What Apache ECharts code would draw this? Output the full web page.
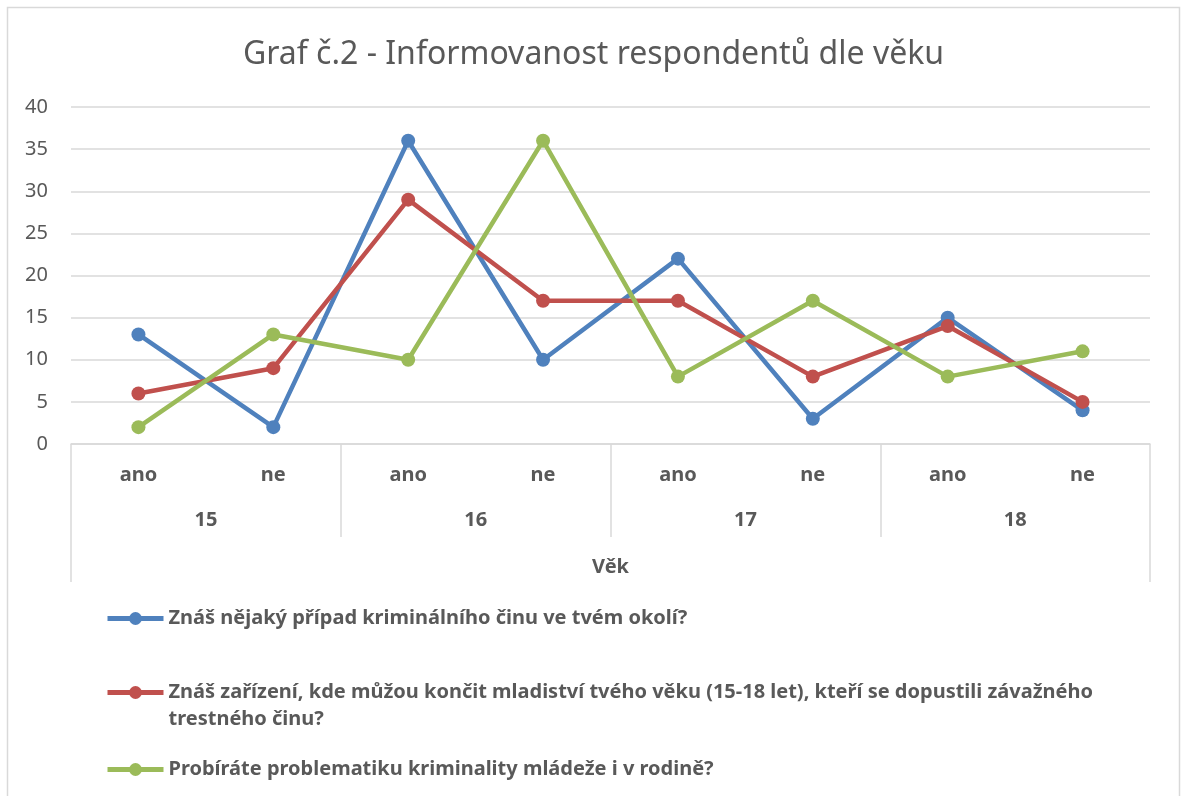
<!DOCTYPE html>
<html>
<head>
<meta charset="utf-8">
<script src="https://cdn.jsdelivr.net/npm/echarts@6/dist/echarts.min.js"></script>
<style>
  html, body { margin: 0; padding: 0; background: #fff; }
  #chart { width: 1187px; height: 796px; }
</style>
</head>
<body>
<div id="chart"></div>
<script>
// categories
var answers = ['ano', 'ne', 'ano', 'ne', 'ano', 'ne', 'ano', 'ne'];
var ages = ['15', '16', '17', '18'];
var axisTitle = ['Věk'];

// series names
var names = [
  'Znáš nějaký případ kriminálního činu ve tvém okolí?',
  'Znáš zařízení, kde můžou končit mladiství tvého věku (15-18 let), kteří se dopustili závažného trestného činu?',
  'Probíráte problematiku kriminality mládeže i v rodině?'
];

// values
var pripad = [13, 2, 36, 10, 22, 3, 15, 4];
var zarizeni = [6, 9, 29, 17, 17, 8, 14, 5];
var rodina = [2, 13, 10, 36, 8, 17, 8, 11];

var colors = ['#4F81BD', '#C0504D', '#9BBB59'];
var font = '"Noto Sans", sans-serif';
var gray = '#595959';
var lineGray = '#d9d9d9';

var chart = echarts.init(document.getElementById('chart'));

function makeSeries(name, data, color) {
  return {
    name: name,
    type: 'line',
    data: data,
    xAxisIndex: 0,
    symbol: 'circle',
    symbolSize: 14,
    itemStyle: { color: color },
    lineStyle: { width: 4.5, color: color },
    emphasis: { disabled: true }
  };
}

function makeLegend(name, top) {
  return {
    data: [name],
    left: 105,
    top: top,
    padding: 0,
    itemWidth: 56,
    itemHeight: 16,
    itemGap: 0,
    lineStyle: { width: 5 },
    // wrap the long item like the original, keeping the icon on its first line
    formatter: function (n) {
      if (n.indexOf('závažného trestného') < 0) return n;
      return '\n' + n.replace('závažného trestného', 'závažného\ntrestného');
    },
    textStyle: {
      fontFamily: font,
      fontWeight: 'bold',
      fontSize: 20,
      color: gray,
      lineHeight: 27
    }
  };
}

var option = {
  animation: false,
  backgroundColor: '#fff',
  color: colors,
  title: {
    text: 'Graf č.2 - Informovanost respondentů dle věku',
    left: 'center',
    top: 34,
    textStyle: {
      fontFamily: font,
      fontWeight: 'normal',
      fontSize: 32,
      color: gray
    }
  },
  legend: [
    makeLegend(names[0], 605),
    makeLegend(names[1], 652),
    makeLegend(names[2], 756)
  ],
  grid: {
    left: 71,
    right: 37,
    top: 107,
    bottom: 352,
    containLabel: false
  },
  xAxis: [
    {
      type: 'category',
      data: answers,
      position: 'bottom',
      boundaryGap: true,
      axisLine: { lineStyle: { color: lineGray, width: 1.5 } },
      axisTick: { show: false },
      axisLabel: {
        interval: 0,
        margin: 21,
        fontFamily: font,
        fontWeight: 'bold',
        fontSize: 20,
        color: gray
      }
    },
    {
      type: 'category',
      data: ages,
      position: 'bottom',
      boundaryGap: true,
      axisLine: { show: false },
      axisTick: { show: true, interval: 0, length: 93, lineStyle: { color: lineGray, width: 1.5 } },
      axisLabel: {
        interval: 0,
        margin: 66,
        fontFamily: font,
        fontWeight: 'bold',
        fontSize: 20,
        color: gray
      }
    },
    {
      type: 'category',
      data: axisTitle,
      position: 'bottom',
      boundaryGap: true,
      axisLine: { show: false },
      axisTick: { show: true, interval: 0, length: 138, lineStyle: { color: lineGray, width: 1.5 } },
      axisLabel: {
        interval: 0,
        margin: 113,
        fontFamily: font,
        fontWeight: 'bold',
        fontSize: 20,
        color: gray
      }
    }
  ],
  yAxis: {
    type: 'value',
    min: 0,
    max: 40,
    interval: 5,
    axisLine: { show: false },
    axisTick: { show: false },
    splitLine: { lineStyle: { color: lineGray, width: 1.5 } },
    axisLabel: {
      margin: 23,
      fontFamily: font,
      fontSize: 20,
      color: gray
    }
  },
  graphic: [{
    type: 'rect',
    silent: true,
    z: -1,
    shape: { x: 7.5, y: 7.5, width: 1172, height: 800 },
    style: { fill: 'none', stroke: lineGray, lineWidth: 1.5 }
  }],
  series: [
    makeSeries(names[0], pripad, colors[0]),
    makeSeries(names[1], zarizeni, colors[1]),
    makeSeries(names[2], rodina, colors[2])
  ]
};

chart.setOption(option);
</script>
</body>
</html>
